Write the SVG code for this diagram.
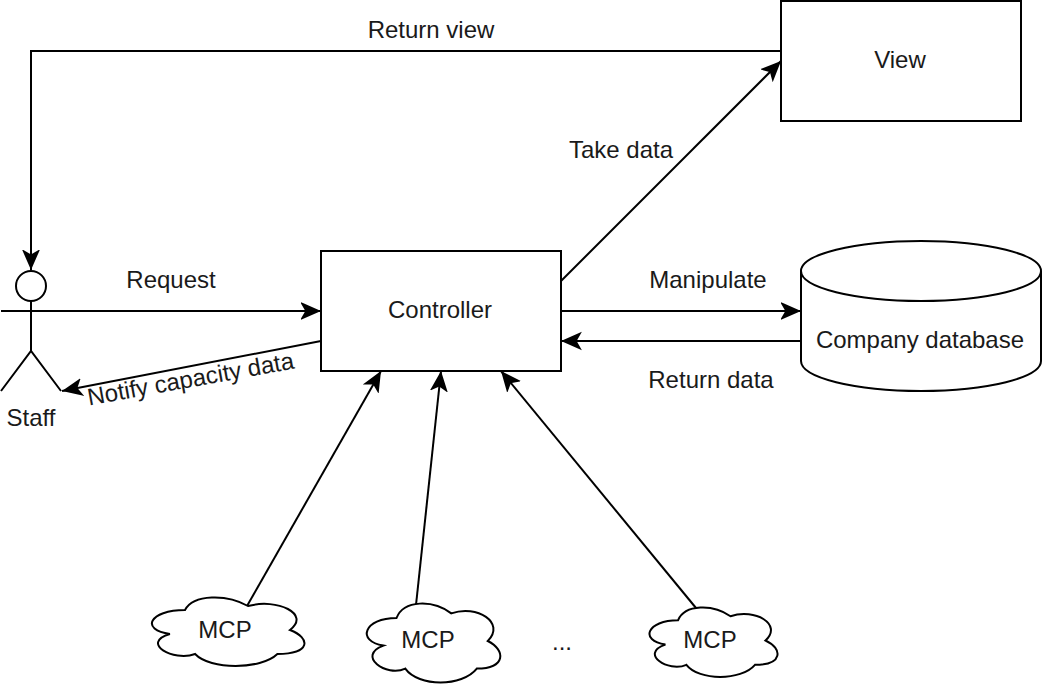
<svg xmlns="http://www.w3.org/2000/svg" width="1044" height="688" viewBox="0 0 1044 688">
<style>
.s{fill:#fff;stroke:#000;stroke-width:2}
.l{fill:none;stroke:#000;stroke-width:2}
text{font-family:"Liberation Sans",Arial,Helvetica,sans-serif;font-size:24px;fill:#1a1a1a;text-anchor:middle}
</style>
<defs>
<marker id="ah" viewBox="0 0 24 20" refX="20.500" refY="10" markerWidth="24" markerHeight="20" markerUnits="userSpaceOnUse" orient="auto"><path d="M2 3L18 10L2 17L6 10Z" fill="#000" stroke="#000" stroke-width="2"/></marker>
</defs>
<rect width="1044" height="688" fill="#fff"/>
<g id="connectors">
<path class="l" d="M781 51H31V270" marker-end="url(#ah)"/>
<path class="l" d="M561 281L781 61" marker-end="url(#ah)"/>
<path class="l" d="M1 311H321" marker-end="url(#ah)"/>
<path class="l" d="M321 341L62 391" marker-end="url(#ah)"/>
<path class="l" d="M561 311H801" marker-end="url(#ah)"/>
<path class="l" d="M801 341H561" marker-end="url(#ah)"/>
<path class="l" d="M247 606L381 371" marker-end="url(#ah)"/>
<path class="l" d="M416 605L441 371" marker-end="url(#ah)"/>
<path class="l" d="M696 608L501 371" marker-end="url(#ah)"/>
</g>
<g id="view"><rect class="s" x="781" y="1" width="240" height="120"/><text x="900" y="68">View</text></g>
<g id="controller"><rect class="s" x="321" y="251" width="240" height="120"/><text x="440" y="318">Controller</text></g>
<g id="database"><path class="s" d="M801 271C801 254.400 854.700 241 921 241C987.300 241 1041 254.400 1041 271V361C1041 377.600 987.300 391 921 391C854.700 391 801 377.600 801 361Z"/><path class="l" d="M801 271C801 287.600 854.700 301 921 301C987.300 301 1041 287.600 1041 271"/><text x="920" y="348">Company database</text></g>
<g id="staff"><circle class="s" cx="31" cy="286" r="15"/><path class="l" d="M31 301V351M1 311H61M1 391L31 351L61 391"/><text x="31" y="426">Staff</text></g>
<g id="mcp1"><path class="s" d="M185 610C149 610 140 630 169.900 634C140 642.800 173.200 662 195.100 654C210.200 670 260.600 670 277.400 654C311 654 311 638 290 630C311 614 277.400 598 248 606C227 594 193.400 594 185 610Z"/><text x="225" y="638">MCP</text></g>
<g id="mcp2"><path class="s" d="M396.500 618C364 618 356 641 383.400 645.600C356 655.700 386.300 677.800 405.300 668.600C418.400 687 462.200 687 476.800 668.600C506 668.600 506 650.200 487.800 641C506 622.600 476.800 604.200 451.300 613.400C433 599.600 403.800 599.600 396.500 618Z"/><text x="428" y="648">MCP</text></g>
<g id="mcp3"><path class="s" d="M678 620.300C647 620.300 639 640.500 665.400 644.600C639 653.500 668.200 672.900 686.400 664.800C699 681 741 681 755 664.800C783 664.800 783 648.600 765.500 640.500C783 624.300 755 608.100 730.500 616.200C713 604 685 604 678 620.300Z"/><text x="710" y="648">MCP</text></g>
<g id="labels">
<text x="431" y="38">Return view</text>
<text x="621" y="158">Take data</text>
<text x="171" y="288">Request</text>
<text x="708" y="288">Manipulate</text>
<text x="711" y="388">Return data</text>
<text x="562" y="650">...</text>
<text x="192" y="387" transform="rotate(-10.200 192 387)">Notify capacity data</text>
</g>
</svg>
